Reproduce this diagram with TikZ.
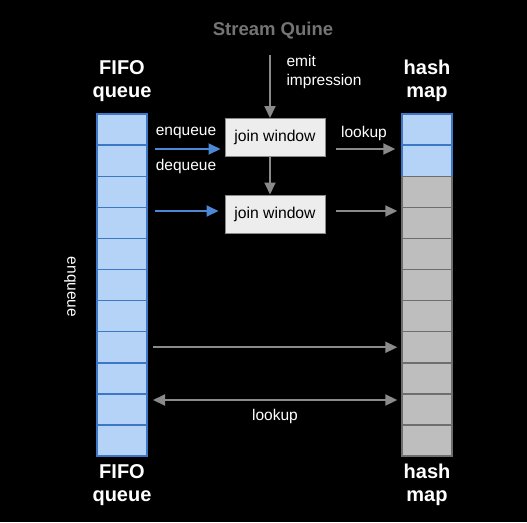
\documentclass[tikz,border=0pt]{standalone}
\usepackage{fontspec}
\setmainfont{Liberation Sans}
\usetikzlibrary{positioning,arrows.meta}
\definecolor{qfill}{HTML}{B4D3F6}
\definecolor{qedge}{HTML}{3C78C6}
\definecolor{hfill}{HTML}{BEBEBE}
\definecolor{hedge}{HTML}{6E6E6E}
\definecolor{arrgray}{HTML}{8A8A8A}
\definecolor{arrblue}{HTML}{4D88D6}
\definecolor{wfill}{HTML}{EDEDED}
\definecolor{titlegray}{HTML}{747474}

\begin{document}
\begin{tikzpicture}[x=1pt,y=-1pt,>={Triangle[length=12pt,width=11pt]}]
		\tikzstyle{qcell}=[draw=qedge,fill=qfill,line width=1.4pt,minimum width=50pt,minimum height=31.1pt,inner sep=0pt]
		\tikzstyle{hcell}=[draw=hedge,fill=hfill,line width=1.4pt,minimum width=50pt,minimum height=31.1pt,inner sep=0pt]
		\tikzstyle{hblue}=[qcell,draw=qedge]
		\tikzstyle{window}=[draw=arrgray,fill=wfill,line width=1pt,minimum width=100pt,minimum height=38pt,inner sep=0pt,font=\fontsize{15.7}{18}\selectfont]
		\tikzstyle{title}=[white,font=\fontsize{20}{23}\selectfont\bfseries,align=center]
		\tikzstyle{lbl}=[white,font=\fontsize{15.5}{19}\selectfont]
		\tikzstyle{grayarr}=[draw=arrgray,line width=2pt,->]
		\tikzstyle{bluearr}=[draw=arrblue,line width=2pt,-{Triangle[length=12pt,width=11pt,fill=arrblue]}]
		
		\fill[black] (0,0) rectangle (527,522);
		
		% queue and hash map
		\foreach \i in {1,...,11}
		\node[qcell] (q\i) at (122,{114+31.1*(\i-0.5)}) {};
		\foreach \i in {1,2}
		\node[hblue] (h\i) at (427,{114+31.1*(\i-0.5)}) {};
		\foreach \i in {3,...,11}
		\node[hcell] (h\i) at (427,{114+31.1*(\i-0.5)}) {};
		
		\node[title] (qtop) at (122,81) {FIFO\\queue};
		\node[title] (htop) at (427,81) {hash\\map};
		\node[title] (qbot) at (122,485) {FIFO\\queue};
		\node[title] (hbot) at (427,485) {hash\\map};
		\node[lbl,rotate=-90] (side) at (70,287) {enqueue};
		
		% stream and join windows
		\node[titlegray,font=\fontsize{18.5}{22}\selectfont\bfseries] (src) at (273,31) {Stream Quine};
		\node[window] (j1) at (275,137.5) {join window};
		\node[window] (j2) at (275,214) {join window};
		\node[lbl,align=left,anchor=west] (emit) at (283,72) {emit\\impression};
		
		\coordinate (s1) at (270,55);
		\draw[grayarr] (s1) -- (s1 |- j1.north);
		\draw[grayarr] (j1.south -| s1) -- (j2.north -| s1);
		
		% enqueue / dequeue side
		\coordinate (e1) at (155,149);
		\coordinate (e2) at (155,211);
		\draw[bluearr] (e1) -- ([xshift=-4pt]e1 -| j1.west);
		\draw[bluearr] (e2) -- ([xshift=-6pt]e2 -| j2.west);
		\node[lbl] (enq) at (186,133) {enqueue};
		\node[lbl] (deq) at (186,166) {dequeue};
		
		% lookups into the map
		\draw[grayarr] ([xshift=10pt]j1.east |- e1) -- ([xshift=-6pt]e1 -| h1.west);
		\draw[grayarr] ([xshift=10pt]j2.east |- e2) -- ([xshift=-4pt]e2 -| h1.west);
		\node[lbl] (look1) at (364,133) {lookup};
		
		\draw[grayarr] ([xshift=5pt]q8.east) -- ([xshift=-4pt]h8.west);
		\coordinate (l2) at (153,400);
		\draw[grayarr,<->] (l2) -- ([xshift=-4pt]l2 -| h1.west);
		\node[lbl] (look2) at (275,416) {lookup};
		
	\end{tikzpicture}
\end{document}
